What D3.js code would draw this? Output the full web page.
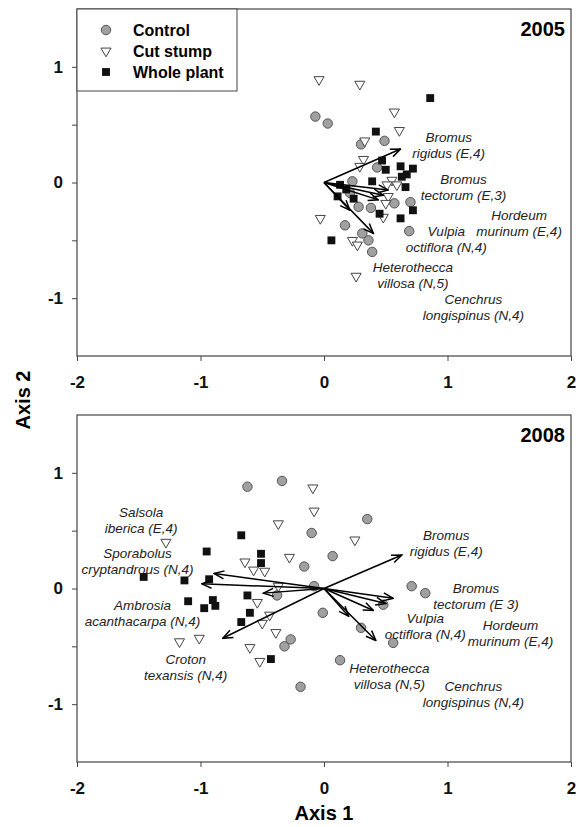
<!DOCTYPE html>
<html>
<head>
<meta charset="utf-8">
<script src="https://cdn.jsdelivr.net/npm/d3@7"></script>
<style>
  body { margin: 0; background: #fff; }
  svg { display: block; font-family: "Liberation Sans", Arial, sans-serif; }
  .tick text { font-weight: bold; font-size: 17px; fill: #111; }
  .domain { display: none; }
  .tick line { stroke: #444; }
  .species { font-style: italic; font-size: 13.5px; fill: #222; }
</style>
</head>
<body>
<script>
//======================================================================//
//  DATA
//======================================================================//

var xTicks = [-2, -1, 0, 1, 2];
var yTicks = [-1.5, -1, -0.5, 0, 0.5, 1, 1.5];
var yLabels = [-1, 0, 1];
var groups = ["Control", "Cut stump", "Whole plant"];

// 2005 sample scores [axis1, axis2]
var control2005 = [[-0.07,0.57],[0.03,0.51],[0.30,0.33],[0.49,0.36],[0.43,0.13],[0.23,0.01],
  [0.21,-0.09],[0.28,-0.21],[0.38,-0.22],[0.57,-0.18],[0.70,-0.17],[0.69,-0.42],
  [0.17,-0.37],[0.31,-0.44],[0.36,-0.50],[0.39,-0.60]];
var cut2005 = [[-0.04,0.89],[0.29,0.85],[0.57,0.61],[0.61,0.45],[0.33,0.36],[0.32,0.20],
  [0.29,0.14],[0.55,0.02],[0.51,-0.02],[0.59,-0.02],[0.52,-0.12],[0.50,-0.18],
  [0.48,-0.30],[-0.03,-0.31],[0.23,-0.50],[0.27,-0.54],[0.26,-0.81]];
var whole2005 = [[0.86,0.73],[0.42,0.44],[0.47,0.19],[0.50,0.11],[0.62,0.14],[0.72,0.12],
  [0.67,0.07],[0.63,0.05],[0.66,-0.04],[0.72,-0.24],[0.62,-0.31],[0.45,-0.27],
  [0.39,0.01],[0.13,-0.02],[0.18,-0.06],[0.11,-0.12],[0.24,-0.14],[0.06,-0.50]];

// 2008 sample scores
var control2008 = [[-0.62,0.88],[-0.34,0.93],[0.35,0.60],[-0.10,0.48],[0.07,0.28],[-0.16,0.19],
  [-0.08,0.02],[-0.38,-0.06],[-0.01,-0.21],[-0.32,-0.50],[-0.27,-0.44],[0.71,0.02],
  [0.82,-0.04],[0.30,-0.34],[0.56,-0.47],[0.13,-0.62],[-0.19,-0.85],[0.48,-0.14]];
var cut2008 = [[-0.09,0.87],[-0.08,0.67],[-0.37,0.56],[0.25,0.42],[-0.28,0.27],[-0.64,0.23],
  [-0.57,0.16],[-0.48,0.15],[-0.37,0.02],[-0.54,-0.12],[-0.44,-0.23],[-0.50,-0.30],
  [-0.39,-0.38],[-0.60,-0.51],[-1.17,-0.46],[-1.01,-0.43],[-1.28,0.40],[-0.52,-0.63]];
var whole2008 = [[-0.67,0.46],[-0.95,0.32],[-0.51,0.30],[-0.51,0.22],[-1.46,0.10],[-1.13,0.07],
  [-0.93,0.08],[-0.62,-0.06],[-1.10,-0.11],[-0.90,-0.10],[-0.88,-0.15],[-0.97,-0.17],
  [-0.60,-0.21],[-0.67,-0.29],[-0.43,-0.61]];

// species vectors: name lines, arrow tip, label anchor (data units)
var species2005 = [
  {l1: "Bromus", l2: "rigidus (E,4)", tip: [0.62, 0.29], at: [1.01, 0.35]},
  {l1: "Bromus", l2: "tectorum (E,3)", tip: [0.52, -0.065], at: [1.13, -0.01]},
  {l1: "Hordeum", l2: "murinum (E,4)", tip: [0.48, -0.11], at: [1.58, -0.32]},
  {l1: "Vulpia", l2: "octiflora (N,4)", tip: [0.21, -0.24], at: [0.99, -0.46]},
  {l1: "Heterothecca", l2: "villosa (N,5)", tip: [0.40, -0.44], at: [0.72, -0.77]},
  {l1: "Cenchrus", l2: "longispinus (N,4)", tip: [0.44, -0.15], at: [1.21, -1.05]}
];
var species2008 = [
  {l1: "Bromus", l2: "rigidus (E,4)", tip: [0.63, 0.29], at: [0.99, 0.42]},
  {l1: "Bromus", l2: "tectorum (E 3)", tip: [0.56, -0.085], at: [1.23, -0.04]},
  {l1: "Vulpia", l2: "octiflora (N,4)", tip: [0.20, -0.24], at: [0.82, -0.30]},
  {l1: "Hordeum", l2: "murinum (E,4)", tip: [0.50, -0.13], at: [1.51, -0.36]},
  {l1: "Heterothecca", l2: "villosa (N,5)", tip: [0.42, -0.45], at: [0.53, -0.73]},
  {l1: "Cenchrus", l2: "longispinus (N,4)", tip: [0.40, -0.19], at: [1.21, -0.89]},
  {l1: "Salsola", l2: "iberica (E,4)", tip: [-0.89, 0.13], at: [-1.48, 0.62]},
  {l1: "Sporabolus", l2: "cryptandrous (N,4)", tip: [-0.99, 0.04], at: [-1.51, 0.26]},
  {l1: "Ambrosia", l2: "acanthacarpa (N,4)", tip: [-0.49, -0.04], at: [-1.47, -0.19]},
  {l1: "Croton", l2: "texansis (N,4)", tip: [-0.82, -0.43], at: [-1.12, -0.65]}
];

//======================================================================//
//  SVG SETUP
//======================================================================//

var W = 579, H = 827;
var left = 77, right = 571;

var svg = d3.select("body").append("svg")
    .attr("width", W)
    .attr("height", H);

// open arrow head
svg.append("defs").append("marker")
    .attr("id", "arrow")
    .attr("markerUnits", "userSpaceOnUse")
    .attr("viewBox", "0 0 12 10")
    .attr("markerWidth", 12)
    .attr("markerHeight", 10)
    .attr("refX", 11)
    .attr("refY", 5)
    .attr("orient", "auto")
    .append("path")
    .attr("d", "M1,1 L11,5 L1,9")
    .attr("fill", "none")
    .attr("stroke", "#000")
    .attr("stroke-width", 1.5);

var x = d3.scaleLinear().domain([-2, 2]).range([left, right]);

var symCircle = d3.symbol(d3.symbolCircle).size(70)();
var symSquare = d3.symbol(d3.symbolSquare).size(62)();
var symTri = d3.symbol(d3.symbolTriangle).size(44)();

//======================================================================//
//  PANELS
//======================================================================//

drawPanel(9, 356, "2005", control2005, cut2005, whole2005, species2005);
drawPanel(415, 762, "2008", control2008, cut2008, whole2008, species2008);

// axis titles
svg.append("text")
    .attr("x", (left + right) / 2)
    .attr("y", 820)
    .attr("text-anchor", "middle")
    .style("font-weight", "bold")
    .style("font-size", "20px")
    .text("Axis 1");

svg.append("text")
    .attr("transform", "translate(30,400) rotate(-90)")
    .attr("text-anchor", "middle")
    .style("font-weight", "bold")
    .style("font-size", "20px")
    .text("Axis 2");

// legend (top panel)
var lg = svg.append("g");
lg.append("rect")
    .attr("x", 77).attr("y", 9)
    .attr("width", 160).attr("height", 82)
    .attr("fill", "#fff")
    .attr("stroke", "#444");
groups.forEach(function(g, i) {
    var yy = 30 + i * 21;
    var s = lg.append("path").attr("transform", "translate(106," + yy + ")");
    styleSymbol(s, i);
    lg.append("text")
        .attr("x", 133).attr("y", yy + 6)
        .style("font-weight", "bold")
        .style("font-size", "16px")
        .text(g);
});

//======================================================================//
//  FUNCTIONS
//======================================================================//

function styleSymbol(sel, i) {
    if (i === 0) {
        sel.attr("d", symCircle).attr("fill", "#a0a0a0").attr("stroke", "#555").attr("stroke-width", 1);
    } else if (i === 1) {
        sel.attr("d", symTri).attr("fill", "#fff").attr("stroke", "#444").attr("stroke-width", 1)
           .attr("transform", sel.attr("transform") + " rotate(180)");
    } else {
        sel.attr("d", symSquare).attr("fill", "#111").attr("stroke", "none");
    }
}

function drawPanel(top, bottom, year, ctrl, cut, whole, species) {
    var y = d3.scaleLinear().domain([-1.5, 1.5]).range([bottom, top]);
    var g = svg.append("g");

    // y axis ticks (every 0.5, labels on integers)
    g.append("g")
        .attr("transform", "translate(" + left + ",0)")
        .call(d3.axisLeft(y).tickValues(yTicks.slice(1, -1)).tickSize(5).tickPadding(9)
            .tickFormat(function(d) { return yLabels.indexOf(d) >= 0 ? String(d) : ""; }));

    // x axis
    g.append("g")
        .attr("transform", "translate(0," + bottom + ")")
        .call(d3.axisBottom(x).tickValues(xTicks).tickSize(5).tickPadding(15)
            .tickFormat(function(d) { return String(d); }));

    // frame
    g.append("rect")
        .attr("x", left).attr("y", top)
        .attr("width", right - left).attr("height", bottom - top)
        .attr("fill", "none")
        .attr("stroke", "#444")
        .attr("stroke-width", 1.2);

    // points
    g.selectAll(".ctrl").data(ctrl).join("path")
        .attr("d", symCircle)
        .attr("transform", function(d) { return "translate(" + x(d[0]) + "," + y(d[1]) + ")"; })
        .attr("fill", "#a0a0a0").attr("stroke", "#555").attr("stroke-width", 1);

    g.selectAll(".cut").data(cut).join("path")
        .attr("d", symTri)
        .attr("transform", function(d) { return "translate(" + x(d[0]) + "," + y(d[1]) + ") rotate(180)"; })
        .attr("fill", "#fff").attr("stroke", "#444").attr("stroke-width", 1);

    g.selectAll(".whole").data(whole).join("path")
        .attr("d", symSquare)
        .attr("transform", function(d) { return "translate(" + x(d[0]) + "," + y(d[1]) + ")"; })
        .attr("fill", "#111");

    // species vectors
    g.selectAll(".vec").data(species).join("line")
        .attr("x1", x(0)).attr("y1", y(0))
        .attr("x2", function(d) { return x(d.tip[0]); })
        .attr("y2", function(d) { return y(d.tip[1]); })
        .attr("stroke", "#000")
        .attr("stroke-width", 1.5)
        .attr("marker-end", "url(#arrow)");

    // species labels
    var lab = g.selectAll(".lab").data(species).join("text")
        .attr("class", "species")
        .attr("text-anchor", "middle")
        .attr("x", function(d) { return x(d.at[0]); })
        .attr("y", function(d) { return y(d.at[1]); });
    lab.append("tspan").text(function(d) { return d.l1; });
    lab.append("tspan")
        .attr("x", function(d) { return x(d.at[0]); })
        .attr("dy", 16)
        .text(function(d) { return d.l2; });

    // year
    g.append("text")
        .attr("x", 565).attr("y", top + 27)
        .attr("text-anchor", "end")
        .style("font-weight", "bold")
        .style("font-size", "20px")
        .text(year);
}
</script>
</body>
</html>
